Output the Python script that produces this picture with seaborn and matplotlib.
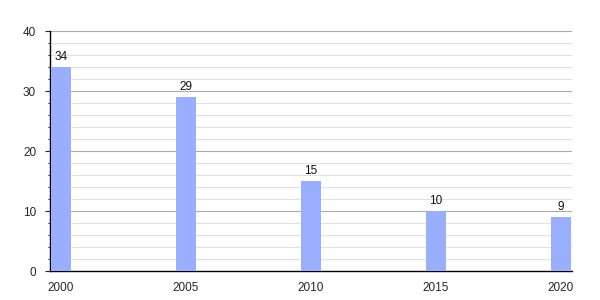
import matplotlib
matplotlib.use("Agg")
import matplotlib.pyplot as plt
import seaborn as sns
import pandas as pd
from matplotlib.ticker import MultipleLocator

years = [2000, 2005, 2010, 2015, 2020]
values = [34, 29, 15, 10, 9]

sns.set_theme(style="white")
plt.rcParams['font.family'] = ['Liberation Sans', 'DejaVu Sans']

df = pd.DataFrame({"year": years, "value": values})

fig = plt.figure(figsize=(6, 3), dpi=100)
ax = fig.add_axes([50/600, 1-271/300, 522/600, 240/300])

sns.barplot(data=df, x="year", y="value", native_scale=True, width=0.16,
            color="#9aaeff", saturation=1, ax=ax, zorder=3, linewidth=0,
            edgecolor="none")

for c in ax.containers:
    ax.bar_label(c, labels=[str(v) for v in values], padding=3, fontsize=8.5, color="#111111")

ax.set_xlim(1999.56, 2020.44)
ax.set_ylim(0, 40)
ax.set_xticks(years)
ax.set_xticklabels([str(y) for y in years])
ax.yaxis.set_major_locator(MultipleLocator(10))
ax.yaxis.set_minor_locator(MultipleLocator(2))
ax.grid(axis="y", which="major", color="#aaaaaa", linewidth=0.8, zorder=0)
ax.grid(axis="y", which="minor", color="#e2e2e2", linewidth=0.8, zorder=0)
ax.set_axisbelow(True)
ax.tick_params(axis="y", which="major", left=True, length=3.5, width=0.8, labelsize=8.5, pad=6.5)
ax.tick_params(axis="y", which="minor", left=True, length=1.8, width=0.8)
ax.tick_params(axis="x", bottom=False, labelsize=8.5, pad=2)
for s in ["top", "right"]:
    ax.spines[s].set_visible(False)
for s in ["left", "bottom"]:
    ax.spines[s].set_color("black")
    ax.spines[s].set_linewidth(1.0)
ax.set_xlabel("")
ax.set_ylabel("")

fig.savefig("out.png", dpi=100)
